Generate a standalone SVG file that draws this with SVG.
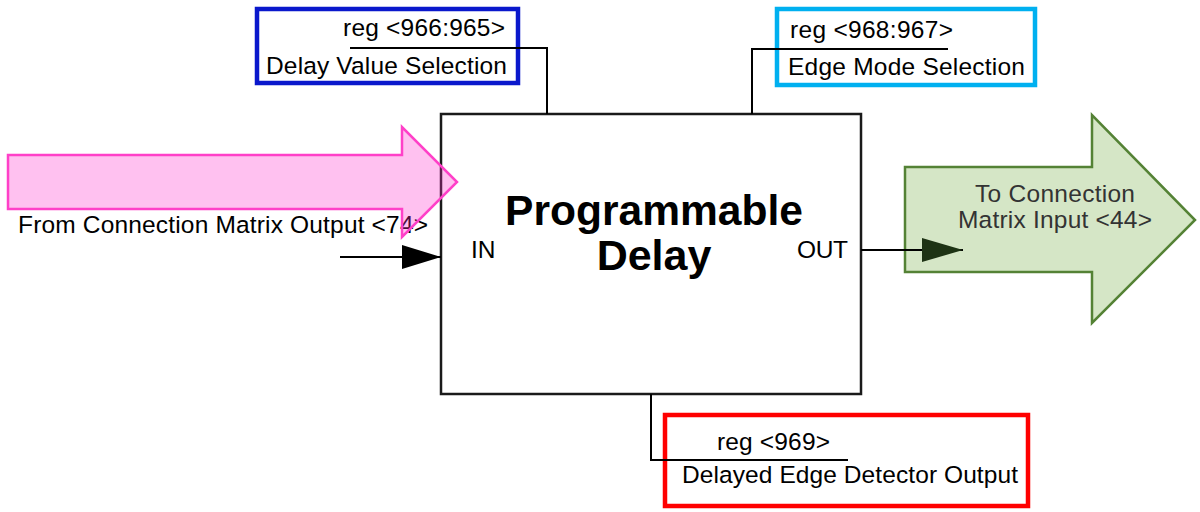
<svg xmlns="http://www.w3.org/2000/svg" width="1200" height="512" viewBox="0 0 1200 512">
  <style>
    .t { font-family: "Liberation Sans", Arial, sans-serif; font-size: 24.5px; fill: #000; }
    .g { fill: #333; }
    .title { font-family: "Liberation Sans", Arial, sans-serif; font-size: 43px; font-weight: bold; fill: #000; text-anchor: middle; }
    .wire { fill: none; stroke: #000; stroke-width: 2; }
  </style>
  <defs>
    <marker id="ahBlack" markerWidth="39" markerHeight="24" refX="39" refY="12" orient="auto" markerUnits="userSpaceOnUse">
      <path d="M0,0 L39,12 L0,24 Z" fill="#000"/>
    </marker>
    <marker id="ahGreen" markerWidth="41" markerHeight="24" refX="41" refY="12" orient="auto" markerUnits="userSpaceOnUse">
      <path d="M0,0 L41,12 L0,24 Z" fill="#1e3314"/>
    </marker>
  </defs>
  <rect width="1200" height="512" fill="#fff"/>

  <g id="main-block">
    <rect x="441" y="114" width="420" height="280" fill="#fff" stroke="#1a1a1a" stroke-width="2.5"/>
    <text class="title" x="654" y="225" textLength="298" lengthAdjust="spacingAndGlyphs">Programmable</text>
    <text class="title" x="654" y="270">Delay</text>
    <text class="t" x="471" y="258">IN</text>
    <text class="t" x="797" y="258" textLength="51">OUT</text>
  </g>

  <g id="delay-value-selection">
    <rect x="257" y="9" width="261" height="74" fill="none" stroke="#0a18cc" stroke-width="4.5"/>
    <text class="t" x="343" y="36" textLength="162">reg &lt;966:965&gt;</text>
    <text class="t" x="266" y="74" textLength="241">Delay Value Selection</text>
  </g>

  <g id="edge-mode-selection">
    <rect x="777" y="9" width="258" height="76" fill="none" stroke="#00b0f0" stroke-width="4.5"/>
    <text class="t" x="790" y="38" textLength="163">reg &lt;968:967&gt;</text>
    <text class="t" x="788" y="75" textLength="237">Edge Mode Selection</text>
  </g>

  <g id="delayed-edge-detector-output">
    <rect x="665" y="415" width="363" height="91" fill="none" stroke="#ff0000" stroke-width="4.5"/>
    <text class="t" x="717" y="450" textLength="113">reg &lt;969&gt;</text>
    <text class="t" x="682" y="483" textLength="336">Delayed Edge Detector Output</text>
  </g>

  <g id="from-connection-matrix">
    <text class="t" x="18" y="233" textLength="410">From Connection Matrix Output &lt;74&gt;</text>
    <path d="M8,155 L402,155 L402,127 L457,182 L402,237 L402,209 L8,209 Z" fill="#ff33cc" fill-opacity="0.3" stroke="#ff40c8" stroke-width="2.5"/>
  </g>

  <g id="to-connection-matrix">
    <path d="M905,167 L1092,167 L1092,115 L1195,220 L1092,323 L1092,272 L905,272 Z" fill="#d5e6c6" stroke="#548235" stroke-width="2.5"/>
    <text class="t g" x="975" y="202" textLength="160">To Connection</text>
    <text class="t g" x="958" y="228" textLength="194">Matrix Input &lt;44&gt;</text>
  </g>

  <g id="connectors">
    <polyline class="wire" points="350,48 547,48 547,114"/>
    <polyline class="wire" points="948,49 752,49 752,114"/>
    <polyline class="wire" points="651,394 651,460 848,460"/>
    <line class="wire" x1="340" y1="257" x2="441" y2="257" marker-end="url(#ahBlack)"/>
    <line class="wire" x1="861" y1="250" x2="963" y2="250" marker-end="url(#ahGreen)"/>
  </g>
</svg>
